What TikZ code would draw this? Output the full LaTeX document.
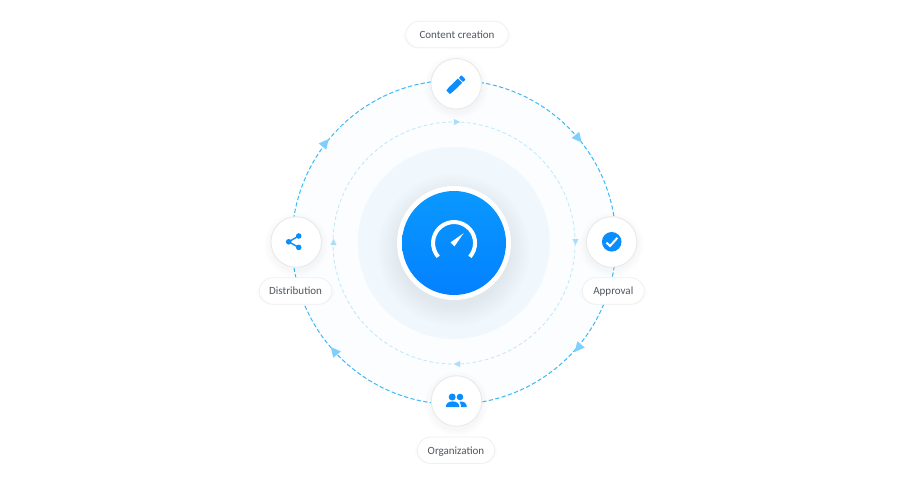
\documentclass[tikz,border=0pt]{standalone}
\usepackage{fontspec}
\setmainfont{Carlito}
\usetikzlibrary{calc}
\definecolor{ringc}{HTML}{3FB8F6}
\definecolor{ringi}{HTML}{BFE6FA}
\definecolor{arrowo}{HTML}{7FCFFC}
\definecolor{arrowi}{HTML}{A9DEFB}
\definecolor{iconc}{HTML}{0A8DFF}
\definecolor{txt}{HTML}{50555F}
\definecolor{edgec}{HTML}{E7E9EB}
\definecolor{hubA}{HTML}{0A98FF}
\definecolor{hubB}{HTML}{0381FF}
\definecolor{palefill}{HTML}{FBFDFF}
\definecolor{halofill}{HTML}{F0F8FE}
\tikzset{
  ringnode/.style={circle,inner sep=0pt,minimum size=#1},
  iconnode/.style={circle,draw=edgec,line width=0.9pt,fill=white,inner sep=0pt,minimum size=50.5pt},
  pill/.style={draw=edgec!70,line width=0.8pt,fill=white,rounded corners=13.4pt,inner sep=0pt,minimum height=26.5pt,
    text=txt,text height=8.6pt,text depth=1.2pt,font=\fontsize{11pt}{13pt}\selectfont}
}
\newcommand{\softshadow}[6]{% x y r spread colour opacity
  \foreach \k in {1,...,8}{
    \fill[#5,opacity=#6] (#1,#2) circle ({#3+#4*\k/8});
  }
}
\newcommand{\softpill}[4]{% cx cy w h
  \foreach \k in {1,...,5}{
    \fill[black,opacity=0.004,rounded corners=14pt] ({#1-#3/2-\k*0.8},{#2+\k*0.5-#4/2-1.5}) rectangle ({#1+#3/2+\k*0.8},{#2-\k*0.5+#4/2-1.5});
  }
}
\newcommand{\tri}[3]{% x y dir
  \fill[arrowo,shift={(#1,#2)},rotate=#3] (5.8,0) -- (-4,4.9) -- (-4,-4.9) -- cycle;
}
\newcommand{\trismall}[3]{% x y dir
  \fill[arrowi,shift={(#1,#2)},rotate=#3] (3.2,0) -- (-3.2,3.2) -- (-3.2,-3.2) -- cycle;
}
\begin{document}
\begin{tikzpicture}[x=1pt,y=1pt]
\useasboundingbox (0,0) rectangle (905,-484);
\fill[white] (0,0) rectangle (905,-484);
% pale disks
\node[ringnode=324pt,fill=palefill,draw=none] (ringfill) at (454,-242.3) {};
\node[ringnode=324pt,draw=ringc,line width=1pt,dash pattern=on 4.2pt off 2.4pt] (outerring) at (454,-242.3) {};
\node[ringnode=242pt,draw=ringi,line width=0.8pt,dash pattern=on 3.6pt off 2.6pt] (innerring) at (454,-243) {};
\node[ringnode=192pt,fill=halofill,draw=none] (halo) at (453.8,-243) {};
% arrows outer
\tri{578}{-138}{-50}
\tri{578.5}{-347.5}{-130}
\tri{334.5}{-351.5}{130}
\tri{325}{-143.5}{50}
% arrows inner
\trismall{457}{-122}{0}
\trismall{575.5}{-242}{-90}
\trismall{457}{-364}{180}
\trismall{333.5}{-242}{90}
% hub
\softshadow{454}{-250}{54}{22}{hubB!30!black}{0.006}
\node[ringnode=114pt,fill=white] (hubrim) at (454,-243) {};
\node[ringnode=104pt,shade,top color=hubA,bottom color=hubB] (hub) at (454,-243) {};
\draw[white,line width=4pt] (438.2,-256.8) arc[start angle=221,end angle=-41,radius=21];
\fill[white] (463.6,-233.2) -- (450.6,-242.4) -- (454.4,-246.4) -- cycle;
% content creation
\softshadow{456.2}{-86.5}{25.5}{7}{black}{0.003}
\node[iconnode] (create) at (456.2,-83.8) {};
\begin{scope}[shift={(455.9,-84.7)},rotate=44]
  \fill[iconc] (-10.8,-2.4) -- (-7,-3) -- (5.8,-3) -- (5.8,3) -- (-7,3) -- (-10.8,2.4) -- cycle;
  \fill[iconc,rounded corners=0.8pt] (6.8,-3) rectangle (10.6,3);
\end{scope}
\softpill{457}{-34.6}{102.6}{27}
\node[pill,minimum width=102.6pt] (createlabel) at (457,-34.6) {Content creation};
% approval
\softshadow{611.7}{-244.8}{25.5}{7}{black}{0.003}
\node[iconnode] (approve) at (611.7,-242) {};
\fill[iconc] (611.7,-241.8) circle (9.8);
\draw[white,line width=2pt] (606.4,-242.6) -- (610,-246) -- (617.4,-237.8);
\softpill{613.3}{-291}{62}{27}
\node[pill,minimum width=62pt] (approvelabel) at (613.3,-291) {Approval};
% organization
\softshadow{456.5}{-403.8}{25.5}{7}{black}{0.003}
\node[iconnode] (org) at (456.5,-401) {};
\fill[iconc] (452.2,-397) circle (3.5);
\fill[iconc] (460,-397) circle (3.3);
\fill[iconc] (445.8,-407.2) .. controls (445.8,-403) and (449,-401.4) .. (452.6,-401.4) .. controls (456.2,-401.4) and (459.4,-403) .. (459.4,-407.2) -- cycle;
\fill[iconc] (460.8,-407.2) -- (460.8,-404.5) .. controls (460.8,-403.4) and (460.2,-402.4) .. (459.6,-401.7) .. controls (463.5,-401) and (466.8,-402.8) .. (466.8,-407.2) -- cycle;
\softpill{456}{-450.3}{77.4}{27}
\node[pill,minimum width=77.4pt] (orglabel) at (456,-450.3) {Organization};
% distribution
\softshadow{296.2}{-244.8}{25.5}{7}{black}{0.003}
\node[iconnode] (share) at (296.2,-242) {};
\draw[iconc,line width=1.4pt] (298.7,-236) -- (288.7,-241.8) -- (298.7,-247.4);
\fill[iconc] (298.7,-236) circle (2.8);
\fill[iconc] (288.7,-241.8) circle (2.8);
\fill[iconc] (298.7,-247.4) circle (2.8);
\softpill{295.6}{-291}{72.6}{27}
\node[pill,minimum width=72.6pt] (sharelabel) at (295.6,-291) {Distribution};
\end{tikzpicture}
\end{document}
